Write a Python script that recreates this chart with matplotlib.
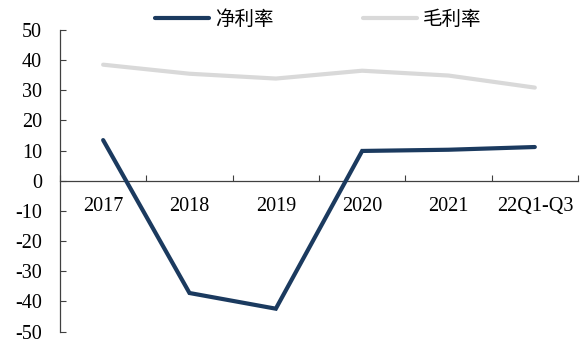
import matplotlib
matplotlib.use("Agg")
import matplotlib.pyplot as plt
import numpy as np

# 数据
categories = ["2017", "2018", "2019", "2020", "2021", "22Q1-Q3"]
net_margin = [13.5, -37.2, -42.4, 9.9, 10.3, 11.2]     # 净利率
gross_margin = [38.5, 35.5, 33.9, 36.5, 34.9, 30.9]    # 毛利率

plt.rcParams['font.family'] = ['Liberation Serif', 'Noto Sans CJK SC']
plt.rcParams['axes.unicode_minus'] = False

fig = plt.figure(figsize=(5.84, 3.44), dpi=100)
ax = fig.add_axes([0.1027, 0.036, 0.887, 0.8768])

x = np.arange(len(categories))
ax.plot(x, net_margin, color='#1b3a5f', lw=3.0, solid_capstyle='round',
        solid_joinstyle='miter', label='净利率', zorder=3)
ax.plot(x, gross_margin, color='#d9d9d9', lw=3.0, solid_capstyle='round',
        solid_joinstyle='miter', label='毛利率', zorder=2)

ax.set_xlim(-0.5, len(categories) - 0.5)
ax.set_ylim(-50, 50)
ax.set_yticks(np.arange(-50, 51, 10))

# x轴放在0的位置，刻度在类别边界，标签在类别中心
ax.spines['bottom'].set_position(('data', 0))
ax.spines['top'].set_visible(False)
ax.spines['right'].set_visible(False)
for s in ['left', 'bottom']:
    ax.spines[s].set_color('#404040')
    ax.spines[s].set_linewidth(0.9)

ax.set_xticks(np.arange(-0.5, len(categories), 1.0))
ax.set_xticklabels([])
ax.set_xticks(x, minor=True)
ax.set_xticklabels(categories, minor=True)
ax.tick_params(axis='x', which='major', direction='in', length=4, color='#404040')
ax.tick_params(axis='x', which='minor', length=0, pad=12, labelsize=14.5)
ax.tick_params(axis='y', direction='in', length=4, color='#404040', pad=13, labelsize=14.5)

leg = fig.legend(loc='upper center', bbox_to_anchor=(0.545, 1.025), ncol=2,
                 frameon=False, handlelength=2.8,
                 handletextpad=0.3, columnspacing=4.6,
                 prop={'family': ['Noto Sans CJK SC'], 'size': 14})

fig.savefig("out.png", dpi=100)
